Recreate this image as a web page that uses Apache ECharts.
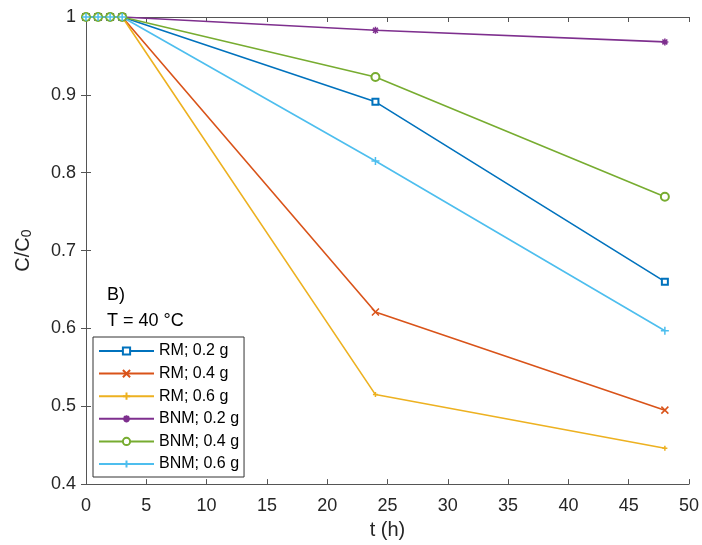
<!DOCTYPE html>
<html>
<head>
<meta charset="utf-8">
<script src="https://cdn.jsdelivr.net/npm/echarts@6/dist/echarts.min.js"></script>
<style>html,body{margin:0;padding:0;background:#fff}#c{width:702px;height:545px}</style>
</head>
<body>
<div id="c"></div>
<script>
var t = [0, 1, 2, 3, 24, 48];
var rm02 = [1, 1, 1, 1, 0.891, 0.660];
var rm04 = [1, 1, 1, 1, 0.621, 0.495];
var rm06 = [1, 1, 1, 1, 0.515, 0.446];
var bnm02 = [1, 1, 1, 1, 0.983, 0.968];
var bnm04 = [1, 1, 1, 1, 0.923, 0.769];
var bnm06 = [1, 1, 1, 1, 0.815, 0.597];
var names = ['RM; 0.2 g', 'RM; 0.4 g', 'RM; 0.6 g', 'BNM; 0.2 g', 'BNM; 0.4 g', 'BNM; 0.6 g'];
var xTicks = [0, 5, 10, 15, 20, 25, 30, 35, 40, 45, 50];
var yTicks = [0.4, 0.5, 0.6, 0.7, 0.8, 0.9, 1];

var colors = ['#0072BD', '#D95319', '#EDB120', '#7E2F8E', '#77AC30', '#4DBEEE'];
var PLUS = 'path://M5,0L5,10M0,5L10,5';
var CROSS = 'path://M0,0L10,10M0,10L10,0';
var STAR = 'path://M5,0L5,10M0,5L10,5M1.5,1.5L8.5,8.5M1.5,8.5L8.5,1.5';
var symbols = ['emptyRect', CROSS, PLUS, STAR, 'emptyCircle', PLUS];
var sizes = [6, 7, 5, 7, 8, 8];
var allData = [rm02, rm04, rm06, bnm02, bnm04, bnm06];

var series = allData.map(function (arr, i) {
  return {
    name: names[i],
    type: 'line',
    data: t.map(function (x, j) { return [x, arr[j]]; }),
    symbol: symbols[i],
    symbolSize: sizes[i],
    showAllSymbol: true,
    clip: false,
    lineStyle: { color: colors[i], width: 1.6 },
    itemStyle: { color: colors[i], borderColor: colors[i], borderWidth: 1.5 },
    emphasis: { disabled: true },
    animation: false
  };
});

var axisCol = '#555555';
var labelCol = '#262626';
var font = 'Liberation Sans, Arial, Helvetica, sans-serif';

var chart = echarts.init(document.getElementById('c'), null, { renderer: 'canvas' });
chart.setOption({
  animation: false,
  backgroundColor: '#fff',
  grid: { left: 86, right: 12, top: 17, bottom: 59, containLabel: false },
  xAxis: [{
    type: 'value', min: xTicks[0], max: xTicks[xTicks.length - 1], interval: 5,
    name: 't (h)', nameLocation: 'middle', nameGap: 34,
    nameTextStyle: { fontSize: 20, color: labelCol, fontFamily: font },
    axisLine: { show: true, lineStyle: { color: axisCol, width: 1 } },
    axisTick: { show: true, inside: true, length: 5, lineStyle: { color: axisCol } },
    axisLabel: { fontSize: 18, color: labelCol, margin: 13, fontFamily: font },
    splitLine: { show: false }
  }, {
    type: 'value', position: 'top', min: xTicks[0], max: xTicks[xTicks.length - 1], interval: 5,
    axisLine: { show: true, lineStyle: { color: axisCol, width: 1 } },
    axisTick: { show: true, inside: true, length: 5, lineStyle: { color: axisCol } },
    axisLabel: { show: false }, splitLine: { show: false }
  }],
  yAxis: [{
    type: 'value', min: yTicks[0], max: yTicks[yTicks.length - 1], interval: 0.1,
    name: '{a|C/C}{b|0}', nameLocation: 'middle', nameGap: 52, nameRotate: 90,
    nameTextStyle: {
      color: labelCol, fontFamily: font,
      rich: {
        a: { fontSize: 20, color: labelCol, fontFamily: font, verticalAlign: 'top', lineHeight: 21 },
        b: { fontSize: 14, color: labelCol, fontFamily: font, verticalAlign: 'bottom', lineHeight: 14, padding: [11, 0, 0, 0] }
      }
    },
    axisLine: { show: true, lineStyle: { color: axisCol, width: 1 } },
    axisTick: { show: true, inside: true, length: 5, lineStyle: { color: axisCol } },
    axisLabel: { fontSize: 18, color: labelCol, margin: 10, fontFamily: font,
      formatter: function (v) { return String(Math.round(v * 10) / 10); } },
    splitLine: { show: false }
  }, {
    type: 'value', position: 'right', min: yTicks[0], max: yTicks[yTicks.length - 1], interval: 0.1,
    axisLine: { show: true, lineStyle: { color: axisCol, width: 1 } },
    axisTick: { show: true, inside: true, length: 5, lineStyle: { color: axisCol } },
    axisLabel: { show: false }, splitLine: { show: false }
  }],
  legend: {
    orient: 'vertical', left: 93, top: 337,
    data: names,
    itemWidth: 55, itemHeight: 9, itemGap: 6.6,
    padding: [6, 5, 5, 5],
    backgroundColor: '#fff', borderColor: '#333', borderWidth: 1, borderRadius: 0,
    textStyle: { fontSize: 16, color: '#000', fontFamily: font, lineHeight: 16 },
    selectedMode: false
  },
  graphic: [
    { type: 'text', left: 107, top: 286, style: { text: 'B)', fontSize: 18, fill: '#000', fontFamily: font } },
    { type: 'text', left: 107, top: 312, style: { text: 'T = 40 °C', fontSize: 18, fill: '#000', fontFamily: font } }
  ],
  series: series
});
</script>
</body>
</html>
